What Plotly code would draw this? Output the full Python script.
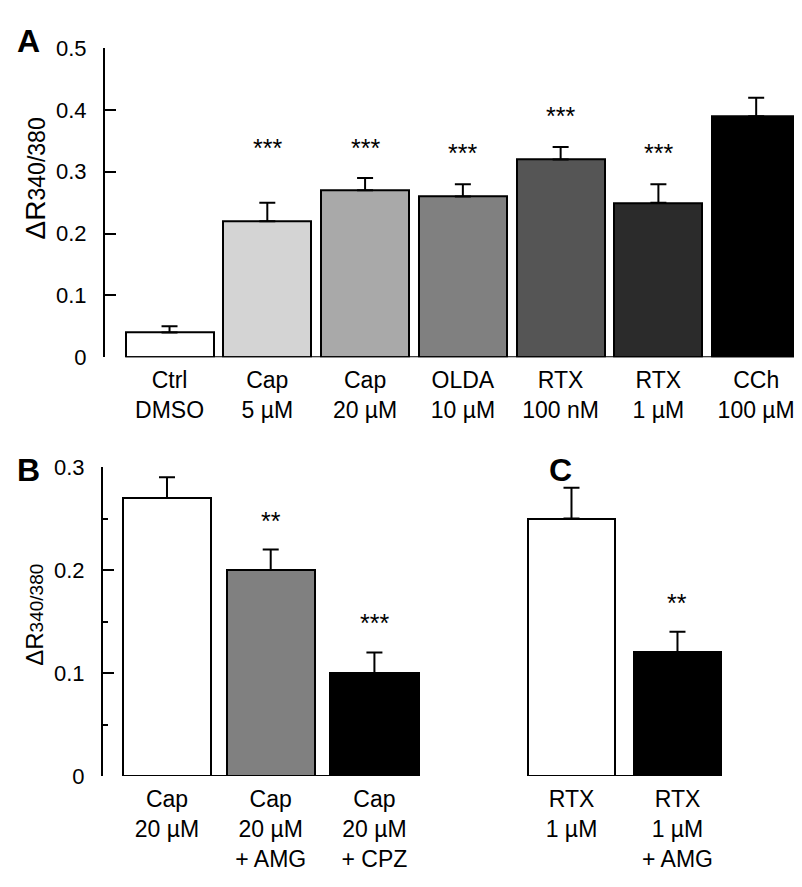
import plotly.graph_objects as go

# panel A
labels_a = ["Ctrl<br>DMSO", "Cap<br>5 µM", "Cap<br>20 µM", "OLDA<br>10 µM",
            "RTX<br>100 nM", "RTX<br>1 µM", "CCh<br>100 µM"]
means_a = [0.04, 0.22, 0.27, 0.26, 0.32, 0.25, 0.39]
sem_a = [0.01, 0.03, 0.02, 0.02, 0.02, 0.03, 0.03]
stars_a = ["", "***", "***", "***", "***", "***", "***"]
star_level_a = [None, 0.338, 0.338, 0.33, 0.39, 0.33, 0.51]
colors_a = ["#ffffff", "#d4d4d4", "#a9a9a9", "#808080", "#555555", "#2b2b2b", "#000000"]

# panel B
labels_b = ["Cap<br>20 µM", "Cap<br>20 µM<br>+ AMG", "Cap<br>20 µM<br>+ CPZ"]
means_b = [0.27, 0.20, 0.10]
sem_b = [0.02, 0.02, 0.02]
stars_b = ["", "**", "***"]
star_level_b = [None, 0.248, 0.149]
colors_b = ["#ffffff", "#808080", "#000000"]

# panel C
labels_c = ["RTX<br>1 µM", "RTX<br>1 µM<br>+ AMG"]
means_c = [0.25, 0.12]
sem_c = [0.03, 0.02]
stars_c = ["", "**"]
star_level_c = [None, 0.168]
colors_c = ["#ffffff", "#000000"]

W, H = 802, 887
FONT = "Liberation Sans, Arial, sans-serif"


def px_x(p):
    return p / W


def px_y(p):
    return 1 - p / H


fig = go.Figure()

panels = [
    ("x", "y", labels_a, means_a, sem_a, stars_a, star_level_a, colors_a, 0.9),
    ("x2", "y2", labels_b, means_b, sem_b, stars_b, star_level_b, colors_b, 0.85),
    ("x3", "y3", labels_c, means_c, sem_c, stars_c, star_level_c, colors_c, 0.83),
]

for xa, ya, labels, means, sem, stars, levels, colors, bw in panels:
    n = len(means)
    xs = list(range(n))
    fig.add_trace(go.Bar(
        x=xs, y=means, xaxis=xa, yaxis=ya, width=bw,
        marker=dict(color=colors, line=dict(color="black", width=2)),
        error_y=dict(type="data", symmetric=False, array=sem, arrayminus=[0] * n,
                     color="black", thickness=2, width=8),
        showlegend=False, hoverinfo="skip",
    ))
    # baseline under the bars
    fig.add_shape(type="line", xref=xa, yref=ya, x0=-bw / 2, x1=n - 1 + bw / 2,
                  y0=0, y1=0, line=dict(color="black", width=2))
    for i, s in enumerate(stars):
        if s:
            fig.add_annotation(x=i, y=levels[i], xref=xa, yref=ya, text=s,
                               showarrow=False, font=dict(size=25, color="black"),
                               yanchor="middle")

xcommon = dict(showgrid=False, zeroline=False, showline=False, ticks="",
               tickfont=dict(size=23, color="black"), ticklabelstandoff=7)
ycommon = dict(showgrid=False, zeroline=False, showline=True, linecolor="black",
               linewidth=2, ticks="inside", ticklen=11, tickwidth=2,
               tickcolor="black", tickfont=dict(size=22, color="black"),
               ticklabelstandoff=12)

fig.update_layout(
    width=W, height=H,
    margin=dict(l=0, r=0, t=0, b=0),
    paper_bgcolor="white", plot_bgcolor="white",
    font=dict(family=FONT, color="black"),
    bargap=0,
    xaxis=dict(domain=[px_x(97), px_x(800)], range=[-0.66, 6.53],
               tickvals=list(range(len(labels_a))), ticktext=labels_a,
               anchor="y", **xcommon),
    yaxis=dict(domain=[px_y(347), px_y(29)], range=[0, 0.5],
               tickvals=[0, 0.1, 0.2, 0.3, 0.4, 0.5], anchor="x", **ycommon),
    xaxis2=dict(domain=[px_x(95), px_x(430)], range=[-0.617, 2.613],
                tickvals=list(range(len(labels_b))), ticktext=labels_b,
                anchor="y2", **xcommon),
    yaxis2=dict(domain=[px_y(778), px_y(460)], range=[0, 0.3],
                tickvals=[0, 0.1, 0.2, 0.3], anchor="x2",
                minor=dict(tickvals=[0.05, 0.15, 0.25], ticks="inside",
                           ticklen=5, tickwidth=2, tickcolor="black"),
                **ycommon),
    xaxis3=dict(domain=[px_x(500), px_x(790)], range=[-0.599, 2.137],
                tickvals=list(range(len(labels_c))), ticktext=labels_c,
                anchor="y3", **xcommon),
    yaxis3=dict(domain=[px_y(778), px_y(460)], range=[0, 0.3], visible=False,
                anchor="x3"),
)

# panel letters
for letter, lx, ly in [("A", 20, 22), ("B", 20, 463), ("C", 552, 463)]:
    fig.add_annotation(x=px_x(lx), y=px_y(ly), xref="paper", yref="paper",
                       text="<b>%s</b>" % letter, showarrow=False,
                       font=dict(size=32, color="black"),
                       xanchor="center", yanchor="middle")

# y-axis titles (panel A is drawn a little larger than panel B)
for ty, big, small in [(163, 28, 23), (612, 24, 19)]:
    fig.add_annotation(x=px_x(27), y=px_y(ty), xref="paper", yref="paper",
                       text='ΔR<span style="font-size:%dpx">340/380</span>' % small,
                       textangle=-90, showarrow=False,
                       font=dict(size=big, color="black"),
                       xanchor="center", yanchor="middle")

fig.write_html("out.html")
